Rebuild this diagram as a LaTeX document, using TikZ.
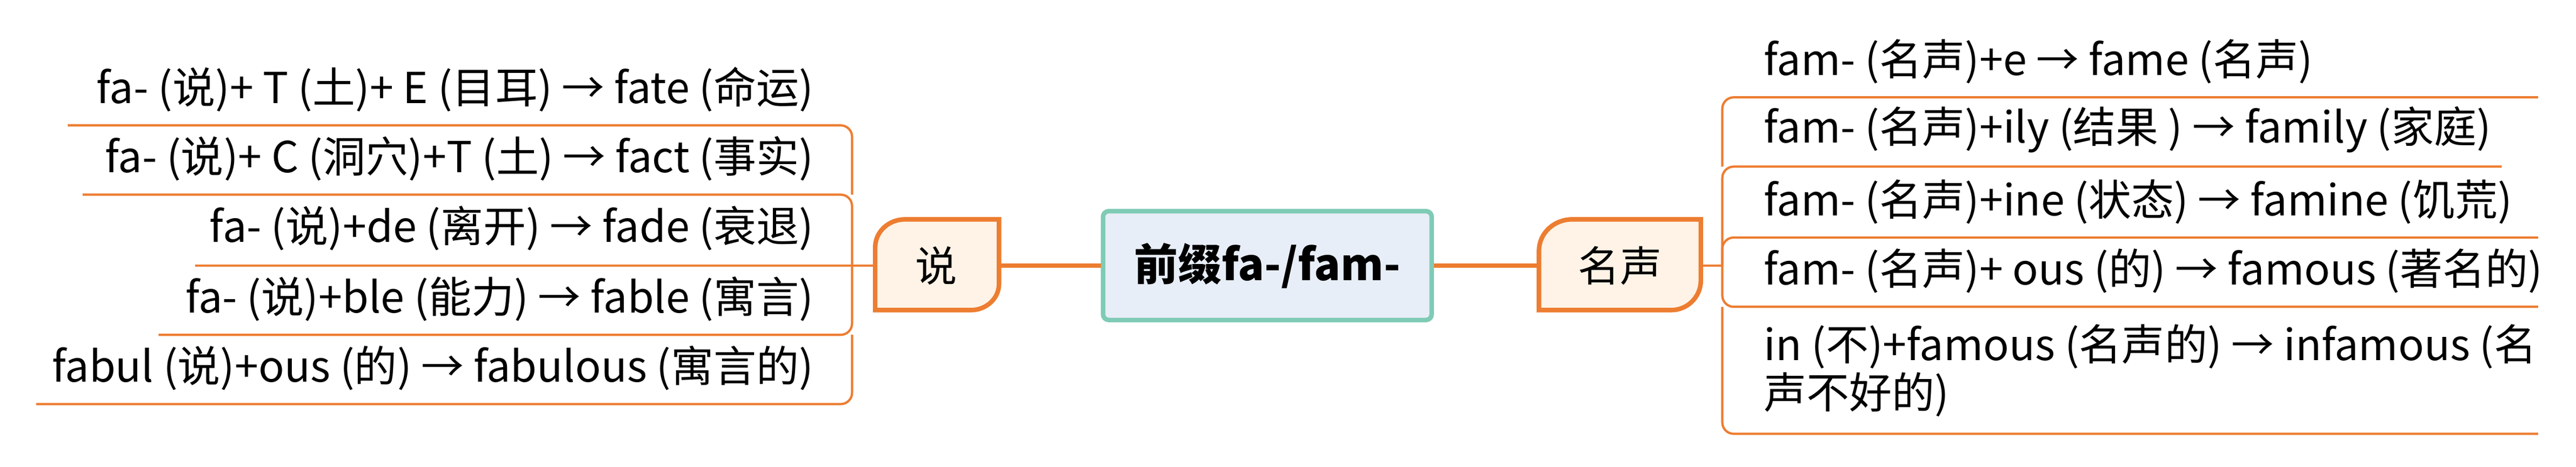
\documentclass[tikz,border=0pt]{standalone}
\usepackage{fontspec}
\setmainfont{Noto Sans CJK SC}
\usepackage{tikz}
\usetikzlibrary{positioning}
\definecolor{branch}{HTML}{ED7D31}
\definecolor{topicfill}{HTML}{FEF3E6}
\definecolor{rootline}{HTML}{7FCBB5}
\definecolor{rootfill}{HTML}{E8EEF8}
\tikzstyle{leaf} = [inner sep=0pt, font=\fontsize{22.5}{24.5}\selectfont]
\tikzstyle{uline} = [draw=branch, line width=1.2pt, rounded corners=6pt]
\tikzstyle{topic} = [draw=branch, fill=topicfill, line width=2.4pt]
\begin{document}
\begin{tikzpicture}[x=0.03055cm, y=-0.03055cm]
            \useasboundingbox (0,0) rectangle (1560,283);
            % root
            \node[draw=rootline, fill=rootfill, line width=2.4pt, rounded corners=3pt, minimum width=199*0.3055mm, minimum height=66*0.3055mm, font=\fontsize{23}{26}\selectfont\bfseries] (root) at (767.5,161) {前缀fa-/fam-};
            % topics
            \draw[topic] (530,188) -- (530,150) to[out=90,in=180] (548,133) -- (605,133) -- (605,172) to[out=-90,in=0] (588,188) -- cycle;
            \node[font=\fontsize{22}{24}\selectfont] (shuo) at (567,161) {说};
            \draw[topic] (932,188) -- (932,152) to[out=90,in=180] (952,133) -- (1030,133) -- (1030,170) to[out=-90,in=0] (1012,188) -- cycle;
            \node[font=\fontsize{22}{24}\selectfont] (ming) at (981,161) {名声};
            \draw[draw=branch, line width=2.4pt] (root.west) -- (605,161);
            \draw[draw=branch, line width=2.4pt] (root.east) -- (932,161);

            % left leaves
            \node[leaf, anchor=south east] (l1) at (493,68) {fa- (说)+ T (土)+ E (目耳) → fate (命运)};
            \node[leaf, anchor=south east] (l2) at (493,110) {fa- (说)+ C (洞穴)+T (土) → fact (事实)};
            \node[leaf, anchor=south east] (l3) at (493,152) {fa- (说)+de (离开) → fade (衰退)};
            \node[leaf, anchor=south east] (l4) at (493,195) {fa- (说)+ble (能力) → fable (寓言)};
            \node[leaf, anchor=south east] (l5) at (493,237) {fabul (说)+ous (的) → fabulous (寓言的)};
            \draw[uline] (41,76) -- (516,76) -- (516,118);
            \draw[uline] (50,118) -- (516,118) -- (516,161);
            \draw[uline] (118,161) -- (530,161);
            \draw[uline] (96,203) -- (516,203) -- (516,161);
            \draw[uline] (22,245) -- (516,245) -- (516,203);

            % right leaves
            \node[leaf, anchor=south west] (r1) at (1068,51) {fam- (名声)+e → fame (名声)};
            \node[leaf, anchor=south west] (r2) at (1068,93) {fam- (名声)+ily (结果 ) → family (家庭)};
            \node[leaf, anchor=south west] (r3) at (1068,136) {fam- (名声)+ine (状态) → famine (饥荒)};
            \node[leaf, anchor=south west] (r4) at (1068,178) {fam- (名声)+ ous (的) → famous (著名的)};
            \node[leaf, anchor=south west, align=left, font=\fontsize{22.5}{25.5}\selectfont] (r5) at (1068,253) {in (不)+famous (名声的) → infamous (名\\声不好的)};
            \draw[uline] (1537,59) -- (1043,59) -- (1043,101);
            \draw[uline] (1515,101) -- (1043,101) -- (1043,161);
            \draw[uline] (1537,144) -- (1043,144) -- (1043,161);
            \draw[uline] (1537,186) -- (1043,186) -- (1043,161);
            \draw[uline] (1537,263) -- (1043,263) -- (1043,186);
            \draw[uline] (1030,161) -- (1043,161);
\end{tikzpicture}
\end{document}
